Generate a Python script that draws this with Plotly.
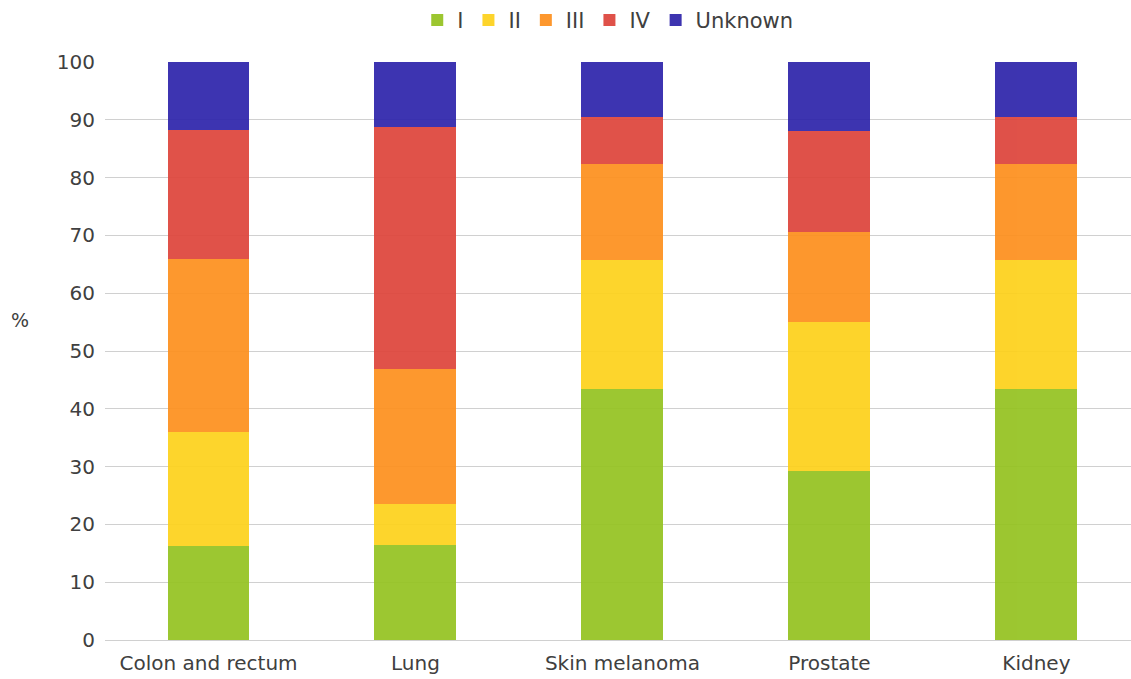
import plotly.graph_objects as go

# Cancer sites and stage distribution at diagnosis (% of cases)
sites = ["Colon and rectum", "Lung", "Skin melanoma", "Prostate", "Kidney"]
stage_i = [16.2, 16.4, 43.4, 29.2, 43.4]
stage_ii = [19.8, 7.1, 22.3, 25.9, 22.3]
stage_iii = [29.9, 23.4, 16.6, 15.5, 16.6]
stage_iv = [22.3, 41.9, 8.2, 17.4, 8.2]
stage_unknown = [11.8, 11.2, 9.5, 12.0, 9.5]

# bars are slightly translucent so the gridlines show through
series = [
    ("I", stage_i, "#94C21F"),
    ("II", stage_ii, "#FDD11A"),
    ("III", stage_iii, "#FD8F1C"),
    ("IV", stage_iv, "#DD433A"),
    ("Unknown", stage_unknown, "#2D23AA"),
]

font_family = "DejaVu Sans"
text_color = "#404040"

fig = go.Figure()
for name, values, color in series:
    fig.add_trace(go.Bar(
        x=sites, y=values, name=name,
        marker=dict(color=color, line=dict(width=0)),
        opacity=0.92,
        width=0.396,
    ))

fig.update_layout(
    barmode="stack",
    width=1131, height=679,
    margin=dict(l=105, r=0, t=62, b=39),
    paper_bgcolor="white",
    plot_bgcolor="white",
    font=dict(family=font_family, size=20, color=text_color),
    legend=dict(
        orientation="h", x=0.49, xanchor="center", y=0.97, yanchor="middle",
        yref="container", font=dict(size=21), traceorder="normal",
    ),
    xaxis=dict(
        range=[-0.5, 4.457], showgrid=False, zeroline=False,
        showline=False, ticks="", ticklabelstandoff=9,
        tickfont=dict(size=20),
    ),
    yaxis=dict(
        range=[0, 100], dtick=10, tickmode="linear",
        showgrid=True, gridcolor="#d0d0d0", gridwidth=1,
        zeroline=True, zerolinecolor="#d0d0d0", zerolinewidth=1,
        showline=False, ticks="", ticklabelstandoff=9,
        tickfont=dict(size=20),
    ),
    annotations=[dict(
        text="%", xref="paper", yref="paper",
        x=(20 - 105) / 1026, y=(640 - 320) / 578,
        xanchor="center", yanchor="middle",
        showarrow=False, font=dict(size=19, color=text_color),
    )],
)

fig.write_html("out.html")
